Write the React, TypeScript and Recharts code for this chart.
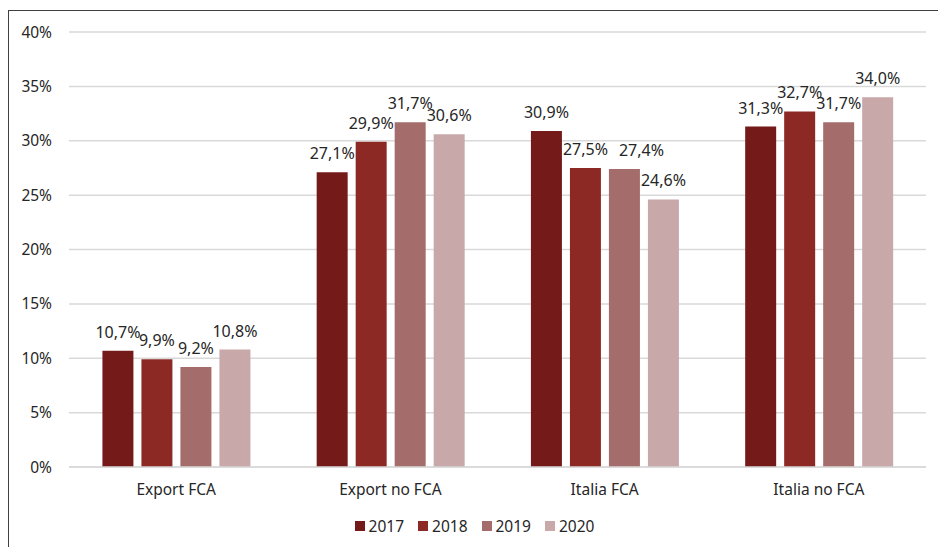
import React from 'react';
import { BarChart, Bar, XAxis, YAxis, CartesianGrid, Legend, LabelList } from 'recharts';

const categories = ['Export FCA', 'Export no FCA', 'Italia FCA', 'Italia no FCA'];
const years = ['2017', '2018', '2019', '2020'];
const values2017 = [10.7, 27.1, 30.9, 31.3];
const values2018 = [9.9, 29.9, 27.5, 32.7];
const values2019 = [9.2, 31.7, 27.4, 31.7];
const values2020 = [10.8, 30.6, 24.6, 34.0];
const yTicks = [0, 5, 10, 15, 20, 25, 30, 35, 40];
const colors = ['#741b1a', '#8c2925', '#a46c6a', '#c8a8a8'];

// horizontal nudge of a data label (series, category index) to avoid overlap, as in the original
const labelNudge: Record<string, number> = { '2019-2': 17 };

const seriesValues = [values2017, values2018, values2019, values2020];
const data = categories.map((c, i) => {
  const row: Record<string, string | number> = { name: c };
  years.forEach((y, k) => {
    row[y] = seriesValues[k][i];
  });
  return row;
});

const fmt = (v: number) => v.toFixed(1).replace('.', ',') + '%';
const textColor = '#262626';

const makeLabel = (year: string) => (props: any) => {
  const { x, y, width, value, index } = props;
  const dx = labelNudge[`${year}-${index}`] || 0;
  return (
    <text
      x={Number(x) + Number(width) / 2 + dx}
      y={Number(y) - 13}
      textAnchor="middle"
      fill={textColor}
      fontSize={16}
    >
      {fmt(Number(value))}
    </text>
  );
};

const renderLegend = (props: any) => {
  const { payload } = props;
  return (
    <div style={{ display: 'flex', justifyContent: 'center', alignItems: 'center', height: 20, paddingLeft: 14 }}>
      {payload.map((p: any, i: number) => (
        <div key={i} style={{ display: 'flex', alignItems: 'center', marginRight: i < payload.length - 1 ? 14 : 0 }}>
          <div style={{ width: 10, height: 10, background: p.color, marginRight: 4 }} />
          <span style={{ fontSize: 15.5, color: textColor, lineHeight: '20px' }}>{p.value}</span>
        </div>
      ))}
    </div>
  );
};

export default function App() {
  return (
    <div
      style={{
        position: 'fixed',
        left: 8,
        top: 10,
        width: 940,
        height: 545,
        borderLeft: '1px solid #404040',
        borderTop: '1px solid #404040',
        fontFamily: '"Noto Sans", sans-serif',
        background: '#fff',
      }}
    >
      <BarChart
        width={929}
        height={536}
        data={data}
        margin={{ top: 21, right: 12, left: 0, bottom: 30 }}
        barGap={8}
        barCategoryGap="15.6%"
      >
        <CartesianGrid vertical={false} stroke="#d9d9d9" strokeWidth={1.5} />
        <XAxis
          dataKey="name"
          height={30}
          tickLine={false}
          tickSize={0}
          tickMargin={17}
          axisLine={{ stroke: '#d9d9d9', strokeWidth: 1.5 }}
          tick={{ fill: textColor, fontSize: 15.5 }}
        />
        <YAxis
          width={60}
          domain={[0, 40]}
          ticks={yTicks}
          interval={0}
          tickFormatter={(v: number) => `${v}%`}
          axisLine={false}
          tickLine={false}
          tickSize={0}
          tickMargin={17}
          tick={{ fill: textColor, fontSize: 15.5 }}
        />
        <Legend
          verticalAlign="bottom"
          content={renderLegend}
          wrapperStyle={{ top: 505, bottom: 'auto' }}
        />
        {years.map((y, k) => (
          <Bar key={y} dataKey={y} fill={colors[k]} isAnimationActive={false}>
            <LabelList dataKey={y} content={makeLabel(y)} />
          </Bar>
        ))}
      </BarChart>
    </div>
  );
}
